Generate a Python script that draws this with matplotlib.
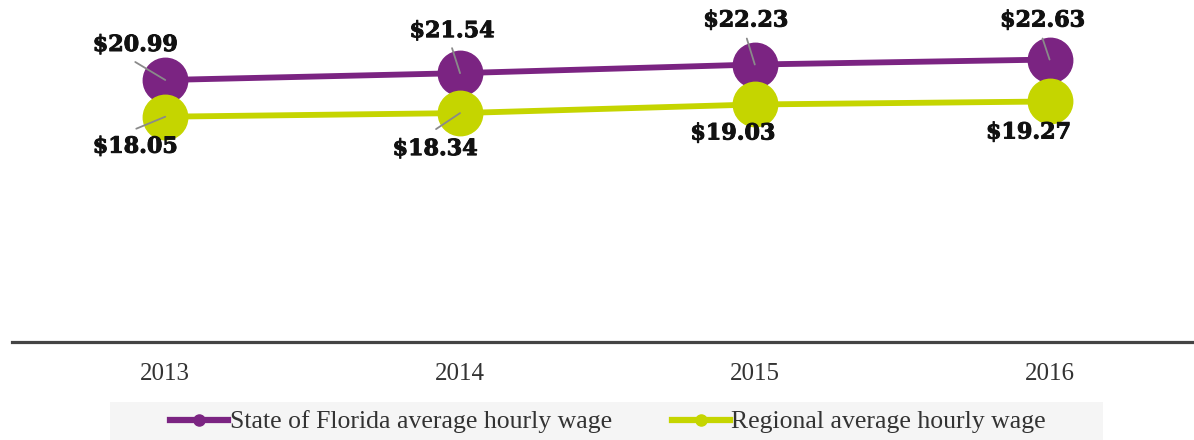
import matplotlib
matplotlib.use("Agg")
import matplotlib.pyplot as plt
import matplotlib.patheffects as pe
from matplotlib.lines import Line2D
from matplotlib.patches import Rectangle

years = ["2013", "2014", "2015", "2016"]
florida = [20.99, 21.54, 22.23, 22.63]
regional = [18.05, 18.34, 19.03, 19.27]
series_names = ["State of Florida average hourly wage", "Regional average hourly wage"]

PURPLE = "#7B2482"
LIME = "#C5D500"

# label placement (offsets in pixels relative to the point)
fl_label_off = [(-30, 35), (-8, 42), (-9, 44), (-7, 39)]
fl_leader_off = [(-30, 18), (-8, 25), (-8, 26), (-7, 21)]
rg_label_off = [(-30, -30), (-25, -36), (-22, -29), (-21, -31)]
rg_leader_off = [(-29, -12), (-24, -16), None, None]

DPI = 100
fig = plt.figure(figsize=(11.94, 4.40), dpi=DPI)
ax = fig.add_axes([12 / 1194, 98 / 440, 1 - 12 / 1194, 342 / 440])

x = list(range(len(years)))
ax.plot(x, florida, color=PURPLE, lw=4.2, marker="o", ms=32, zorder=3, solid_capstyle="butt")
ax.plot(x, regional, color=LIME, lw=4.2, marker="o", ms=32, zorder=4, solid_capstyle="butt")

ax.set_xlim(-0.52, 3.49)
ax.set_ylim(0, 27.4)

px = 72 / DPI
label_font = dict(family="DejaVu Serif", fontweight="bold", fontsize=16, color="#111111")
thick = [pe.withStroke(linewidth=0.7, foreground="#111111")]

def add_labels(vals, loffs, leads):
    for i, v in enumerate(vals):
        if leads[i] is not None:
            ax.annotate("", xy=(i, v), xytext=(leads[i][0] * px, leads[i][1] * px),
                        textcoords="offset points",
                        arrowprops=dict(arrowstyle="-", color="#8a8a8a", lw=1.3,
                                        shrinkA=0, shrinkB=0), zorder=6)
        t = ax.annotate(f"${v:.2f}", xy=(i, v), xytext=(loffs[i][0] * px, loffs[i][1] * px),
                        textcoords="offset points", ha="center", va="center",
                        zorder=7, **label_font)
        t.set_path_effects(thick)

add_labels(florida, fl_label_off, fl_leader_off)
add_labels(regional, rg_label_off, rg_leader_off)

for s in ["top", "right", "left"]:
    ax.spines[s].set_visible(False)
ax.spines["bottom"].set_color("#444444")
ax.spines["bottom"].set_linewidth(2.3)
ax.set_yticks([])
ax.set_xticks(x)
ax.set_xticklabels(years, fontfamily="Liberation Serif", fontsize=18, color="#333333")
ax.tick_params(axis="x", length=0, pad=15)
ax.patch.set_alpha(0)

# legend background
fig.patches.append(Rectangle((110 / 1194, 0), (1103 - 110) / 1194, 38 / 440,
                             transform=fig.transFigure, facecolor="#f5f5f5",
                             edgecolor="none", zorder=0))
handles = [Line2D([], [], color=PURPLE, lw=4.5, marker="o", ms=8),
           Line2D([], [], color=LIME, lw=4.5, marker="o", ms=8)]
leg = fig.legend(handles, series_names, loc="center", bbox_to_anchor=(608 / 1194, 18 / 440),
                 ncol=2, frameon=False, handlelength=2.26, handletextpad=0.05,
                 columnspacing=2.33, borderpad=0, borderaxespad=0,
                 prop=dict(family="Liberation Serif", size=18.5))
for t in leg.get_texts():
    t.set_color("#333333")

fig.savefig("out.png", dpi=DPI)
